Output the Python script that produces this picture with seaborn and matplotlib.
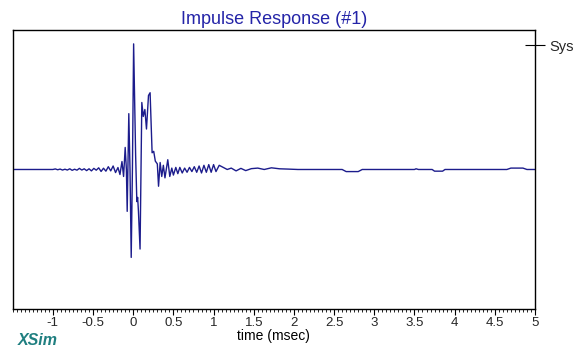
import numpy as np
import pandas as pd
import seaborn as sns
import matplotlib
matplotlib.use('Agg')
import matplotlib.pyplot as plt
from matplotlib.ticker import MultipleLocator

# impulse response (time in msec, amplitude in arbitrary units)
time_ms = [
	-1.50, -1.00, -0.97, -0.94, -0.91, -0.88, -0.85, -0.82, -0.79, -0.76,
	-0.73, -0.70, -0.67, -0.64, -0.61, -0.58, -0.55, -0.52, -0.49, -0.46,
	-0.43, -0.40, -0.37, -0.34, -0.31, -0.28, -0.25, -0.22, -0.19, -0.165,
	-0.14, -0.12, -0.10, -0.085, -0.075, -0.055, -0.04, -0.025, -0.01, 0.005,
	0.03, 0.045, 0.055, 0.065, 0.085, 0.107, 0.125, 0.145, 0.165, 0.19,
	0.21, 0.235, 0.255, 0.275, 0.30, 0.315, 0.335, 0.355, 0.375, 0.395,
	0.43, 0.455, 0.48, 0.50, 0.53, 0.555, 0.58, 0.61, 0.64, 0.67,
	0.70, 0.73, 0.76, 0.79, 0.82, 0.85, 0.88, 0.91, 0.94, 0.97,
	1.00, 1.03, 1.07, 1.12, 1.17, 1.22, 1.28, 1.34, 1.40, 1.47,
	1.55, 1.63, 1.72, 1.82, 1.92, 2.05, 2.60, 2.65, 2.80, 2.85,
	3.50, 3.52, 3.55, 3.72, 3.75, 3.85, 3.88, 4.65, 4.70, 4.85,
	4.90, 5.00,
]
amplitude = [
	0.000, 0.000, 0.004, -0.002, 0.003, -0.004, 0.002, -0.004, 0.005, -0.006,
	0.002, -0.005, 0.008, -0.004, 0.005, -0.008, 0.005, -0.010, 0.008, -0.005,
	0.012, -0.014, 0.009, -0.012, 0.020, -0.010, 0.025, -0.022, 0.014, -0.036,
	0.057, -0.050, 0.158, 0.000, -0.300, 0.400, 0.000, -0.630, 0.000, 0.900,
	0.100, -0.230, -0.200, -0.300, -0.570, 0.480, 0.380, 0.430, 0.290, 0.530,
	0.550, 0.120, 0.130, 0.060, 0.040, -0.120, 0.050, -0.050, 0.030, -0.060,
	0.070, -0.050, 0.010, -0.040, 0.015, -0.030, 0.015, -0.025, 0.010, -0.020,
	0.015, -0.015, 0.020, -0.020, 0.025, -0.025, 0.030, -0.020, 0.035, -0.020,
	0.035, -0.015, 0.030, 0.015, 0.000, 0.010, -0.010, 0.008, -0.008, 0.006,
	0.010, 0.000, 0.012, 0.005, 0.003, 0.000, 0.000, -0.015, -0.015, 0.000,
	0.000, 0.005, 0.000, 0.000, -0.012, -0.012, 0.000, 0.000, 0.010, 0.010,
	0.000, 0.000,
]

sysLevel = 0.889  # where the "Sys" marker sits on the right edge

lineColor = '#1c1c8c'
titleColor = '#2424a8'

sns.set_theme(style='white')
plt.rcParams['font.family'] = ['Liberation Sans', 'DejaVu Sans']

df = pd.DataFrame({'time': time_ms, 'amp': amplitude})

fig = plt.figure(figsize=(5.85, 3.52), dpi=100)
ax = fig.add_axes([0.0217, 0.122, 0.8928, 0.793])

sns.lineplot(data=df, x='time', y='amp', ax=ax, estimator=None, sort=False,
			 color=lineColor, lw=1.0)

ax.set_xlim(-1.5, 5)
ax.set_ylim(-1, 1)

for spine in ax.spines.values():
	spine.set_color('black')
	spine.set_linewidth(1.0)

ax.xaxis.set_minor_locator(MultipleLocator(0.05))
ax.set_xticks([-1, -0.5, 0, 0.5, 1, 1.5, 2, 2.5, 3, 3.5, 4, 4.5, 5])
ax.set_xticklabels(['-1', '-0.5', '0', '0.5', '1', '1.5', '2', '2.5', '3', '3.5', '4', '4.5', '5'])
ax.tick_params(axis='x', which='major', direction='out', length=4, width=0.8,
			   color='black', labelsize=9.5, pad=1.5, bottom=True)
ax.tick_params(axis='x', which='minor', direction='out', length=2.5, width=0.6,
			   color='black', bottom=True)

# right side label "Sys"
ax.yaxis.tick_right()
ax.set_yticks([sysLevel])
ax.set_yticklabels(['Sys'])
ax.tick_params(axis='y', direction='inout', length=14, width=0.8, color='black',
			   labelsize=10.5, pad=3, right=True, left=False)

ax.set_xlabel('time (msec)', fontsize=10, labelpad=0, color='black')
ax.set_ylabel('')
ax.set_title('Impulse Response (#1)', fontsize=13, color=titleColor, pad=4)

fig.text(0.03, 0.033, 'XSim', fontsize=11.5, fontweight='bold', fontstyle='italic',
		 color='#1f7f80', ha='left', va='center')

fig.savefig('out.png', dpi=100)
